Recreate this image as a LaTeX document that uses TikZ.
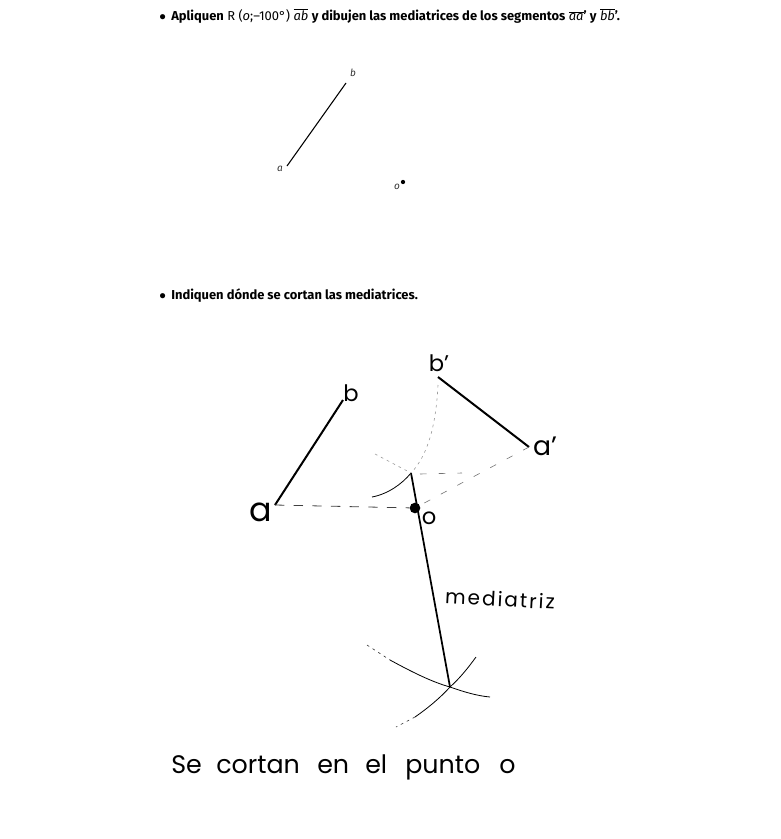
\documentclass[tikz,border=0pt]{standalone}
\usepackage{amsmath}
\usepackage{fontspec}
\setmainfont{Fira Sans}
\newfontfamily\handf{Poppins}
\newfontfamily\handw[LetterSpace=10]{Poppins}
\usetikzlibrary{positioning, calc}
\begin{document}
\begin{tikzpicture}[x=0.75pt, y=-0.75pt,
          head/.style={anchor=west, inner sep=0pt, font=\fontsize{9.7}{12}\selectfont},
          lbl/.style={inner sep=0pt, font=\fontsize{7.5}{9}\selectfont\itshape, text=black!80},
          hand/.style={inner sep=0pt, font=\fontsize{17}{20}\handf},
          hbig/.style={inner sep=0pt, font=\fontsize{25}{28}\handf},
          hsm/.style={inner sep=0pt, font=\fontsize{15}{18}\handw},
          hline/.style={inner sep=0pt, anchor=base west, font=\fontsize{19}{22}\handf},
          seg/.style={line width=0.8pt},
          tk/.style={line width=1.5pt},
          dsh/.style={line width=0.6pt, dash pattern=on 7pt off 7pt, black!75},
          spar/.style={line width=0.45pt, dash pattern=on 5pt off 9pt, black!55},
          arcl/.style={line width=0.45pt, dash pattern=on 2pt off 3pt, black!40},
          arcs/.style={line width=0.6pt},
          pnt/.style={circle, fill=black, inner sep=0pt}]
        \useasboundingbox (0,0) rectangle (781,839);
        % enunciado
        \node[head] (t1) at (159,16) {$\bullet$\kern4pt\textbf{Apliquen} R ($\mathit{o}$;–100°) $\overline{\mathit{ab}}$ \textbf{y dibujen las mediatrices de los segmentos} $\overline{\mathit{aa}}$\textbf{’ y} $\overline{\mathit{bb}}$\textbf{’.}};
        \node[head] (t2) at (159,296) {$\bullet$\kern4pt\textbf{Indiquen dónde se cortan las mediatrices.}};
        % figura dada
        \coordinate (pa) at (287,166); \coordinate (pb) at (346,83);
        \draw[seg] (pa) -- (pb);
        \node[lbl] (la) at (280,169) {a}; \node[lbl] (lb) at (353,73) {b};
        \node[pnt, minimum size=3.2pt] (po) at (403,182) {}; \node[lbl] (lo) at (397,187) {o};
        % figura resuelta
        \coordinate (a) at (275,505); \coordinate (b) at (343,400);
        \coordinate (ap) at (529,447); \coordinate (bp) at (438,377);
        \coordinate (m1) at (411,473); \coordinate (m2) at (450,687);
        \node[pnt, minimum size=8pt] (o) at (415,508) {};
        \draw[tk] (a) -- (b); \draw[tk] (ap) -- (bp);
        \draw[line width=1.3pt] (m1) -- (m2);
        \draw[dsh] (a) -- (o);
        \draw[spar] (ap) -- (o);
        \coordinate (n1) at (420,474); \coordinate (n2) at (462,473);
        \draw[spar] (n1) -- (n2);
        % arcos
        \coordinate (c1) at (438,385); \coordinate (c2) at (372,497); \coordinate (c3) at (375,454);
        \draw[arcl] (c1) .. controls (436,425) and (428,455) .. (m1);
        \draw[arcs] (m1) .. controls (402,484) and (388,494) .. (c2);
        \draw[arcl] (c3) -- (m1);
        \coordinate (d1) at (367,645); \coordinate (d2) at (390,660); \coordinate (d3) at (490,697);
        \coordinate (e1) at (476,657); \coordinate (e2) at (415,717); \coordinate (e3) at (396,727);
        \draw[arcl, black!80] (d1) -- (d2);
        \draw[arcs] (d2) .. controls (412,672) and (432,682) .. (m2) .. controls (464,692) and (478,696) .. (d3);
        \draw[arcs] (e1) .. controls (468,668) and (460,678) .. (m2) .. controls (440,698) and (428,708) .. (e2);
        \draw[arcl, black!80] (e2) -- (e3);
        % rotulos a mano
        \node[hbig] (ha) at (261,512) {a}; \node[hand] (hb) at (351,393) {b};
        \node[hand] (hbp) at (439,363) {b’}; \node[hbig, font=\fontsize{20}{24}\handf] (hap) at (545,446) {a’};
        \node[hand] (ho) at (429,518) {o};
        \node[hsm, rotate=-3] (hm) at (500,599) {mediatriz};
        \foreach \w/\xp in {Se/171, cortan/216, en/317, el/365, punto/405, o/499}{
          \node[hline] (w\xp) at (\xp,773) {\w};
        }
      \end{tikzpicture}
\end{document}
